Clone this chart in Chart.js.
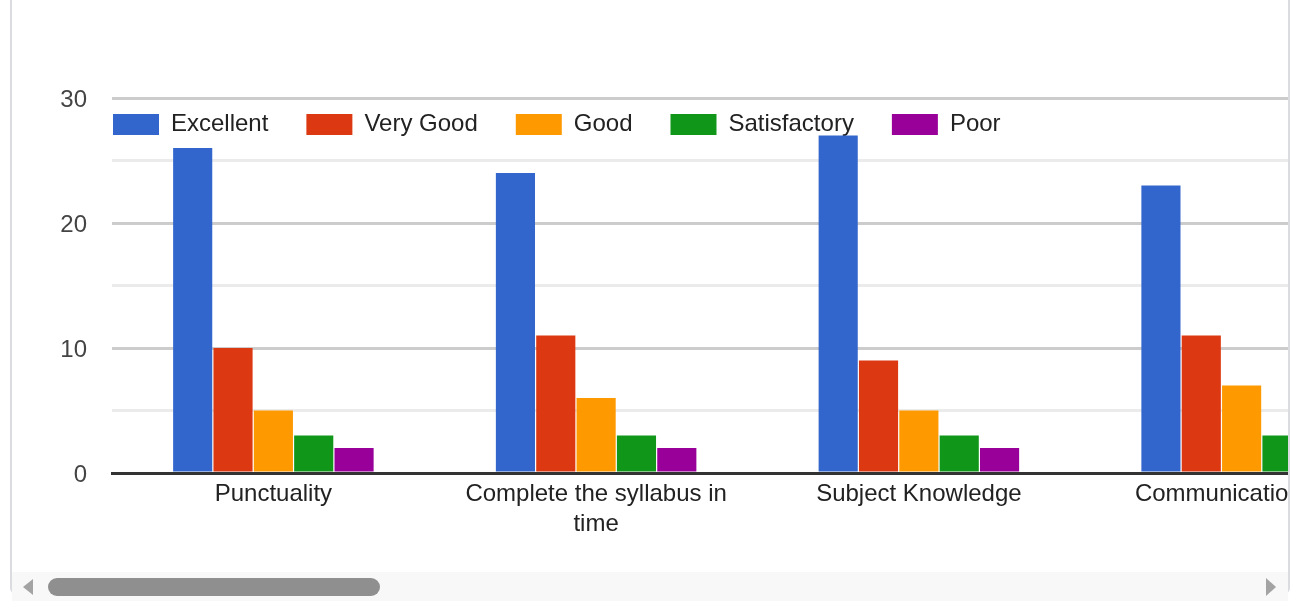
<!DOCTYPE html>
<html>
<head>
<meta charset="utf-8">
<script src="https://cdn.jsdelivr.net/npm/chart.js@4.4.1/dist/chart.umd.min.js"></script>
<style>
  body { margin: 0; background: #fff; width: 1295px; height: 601px; overflow: hidden; position: relative; font-family: "Liberation Sans", Arial, sans-serif; }
  .card { position: absolute; left: 10px; top: 0; width: 1276px; height: 594px; border-left: 2px solid #dadce0; border-right: 2px solid #dadce0; border-bottom-left-radius: 6px; border-bottom-right-radius: 6px; }
  .viewport { position: absolute; left: 12px; top: 0; width: 1276px; height: 572px; overflow: hidden; }
  .chartBox { position: absolute; left: 0; top: 0; width: 1391px; height: 572px; }
  .scroll { position: absolute; left: 12px; top: 572px; width: 1276px; height: 29px; background: #f8f8f8; }
  .thumb { position: absolute; left: 36px; top: 6px; width: 332px; height: 18px; border-radius: 9px; background: #8f8f8f; }
  .arrowL { position: absolute; left: 11px; top: 7px; width: 0; height: 0; border-top: 8.5px solid transparent; border-bottom: 8.5px solid transparent; border-right: 10px solid #a3a3a3; }
  .arrowR { position: absolute; left: 1254px; top: 6px; width: 0; height: 0; border-top: 9px solid transparent; border-bottom: 9px solid transparent; border-left: 10px solid #a3a3a3; }
</style>
</head>
<body>
<div class="card"></div>
<div class="viewport">
  <div class="chartBox"><canvas id="ratingChart"></canvas></div>
</div>
<div class="scroll">
  <div class="arrowL"></div>
  <div class="thumb"></div>
  <div class="arrowR"></div>
</div>
<script>
// categories (x axis)
const categories = ['Punctuality', ['Complete the syllabus in', 'time'], 'Subject Knowledge', 'Communication skill'];

// responses per rating
const excellent = [26, 24, 27, 23];
const veryGood = [10, 11, 9, 11];
const good = [5, 6, 5, 7];
const satisfactory = [3, 3, 3, 3];
const poor = [2, 2, 2, 2];

const seriesNames = ['Excellent', 'Very Good', 'Good', 'Satisfactory', 'Poor'];
const seriesValues = [excellent, veryGood, good, satisfactory, poor];
const seriesColors = ['#3366cc', '#dc3912', '#ff9900', '#109618', '#990099'];

// y axis
const yTicks = [0, 10, 20, 30];
const yStep = 5;

// put the legend inside the plot, top left, like google charts does
const legendInPlot = {
    id: 'legendInPlot',
    afterLayout(chart) {
        const lg = chart.legend;
        const pad = lg.options.labels.padding;
        const h = lg.height;
        lg.left = chart.chartArea.left + 1 - pad;
        lg.top = chart.chartArea.top + 14.5 - pad;
        lg.bottom = lg.top + h;
        lg.right = chart.width;
    }
};

const ctx = document.getElementById('ratingChart');

new Chart(ctx, {
    type: 'bar',
    data: {
        labels: categories,
        datasets: seriesNames.map((name, i) => ({
            label: name,
            data: seriesValues[i],
            backgroundColor: seriesColors[i],
            borderWidth: 0,
            barPercentage: 0.97,
            categoryPercentage: 0.625
        }))
    },
    options: {
        responsive: true,
        maintainAspectRatio: false,
        animation: false,
        events: [],
        layout: { padding: { top: 26, left: 0, right: 0, bottom: 0 } },
        plugins: {
            tooltip: { enabled: false },
            legend: {
                position: 'top',
                align: 'start',
                labels: {
                    boxWidth: 46,
                    boxHeight: 21,
                    padding: 38,
                    color: '#222',
                    font: { family: '"Liberation Sans", Arial, sans-serif', size: 24 }
                }
            }
        },
        scales: {
            x: {
                grid: { display: false, drawTicks: false },
                border: { display: true, color: '#333', width: 3 },
                ticks: {
                    autoSkip: false,
                    maxRotation: 0,
                    padding: 6,
                    color: '#222',
                    font: { family: '"Liberation Sans", Arial, sans-serif', size: 24, lineHeight: 1.25 }
                },
                afterFit(scale) { scale.height = 99; }
            },
            y: {
                min: yTicks[0],
                max: yTicks[yTicks.length - 1],
                border: { display: false },
                grid: {
                    drawTicks: false,
                    lineWidth: 3,
                    color: c => {
                        const v = c.tick.value;
                        if (v === 0) return 'rgba(0,0,0,0)';
                        return yTicks.includes(v) ? '#cccccc' : '#ebebeb';
                    }
                },
                ticks: {
                    stepSize: yStep,
                    padding: 25,
                    labelOffset: 2,
                    color: '#444',
                    font: { family: '"Liberation Sans", Arial, sans-serif', size: 24 },
                    callback: v => yTicks.includes(v) ? v : ''
                },
                afterFit(scale) { scale.width = 100; }
            }
        }
    },
    plugins: [legendInPlot]
});
</script>
</body>
</html>
